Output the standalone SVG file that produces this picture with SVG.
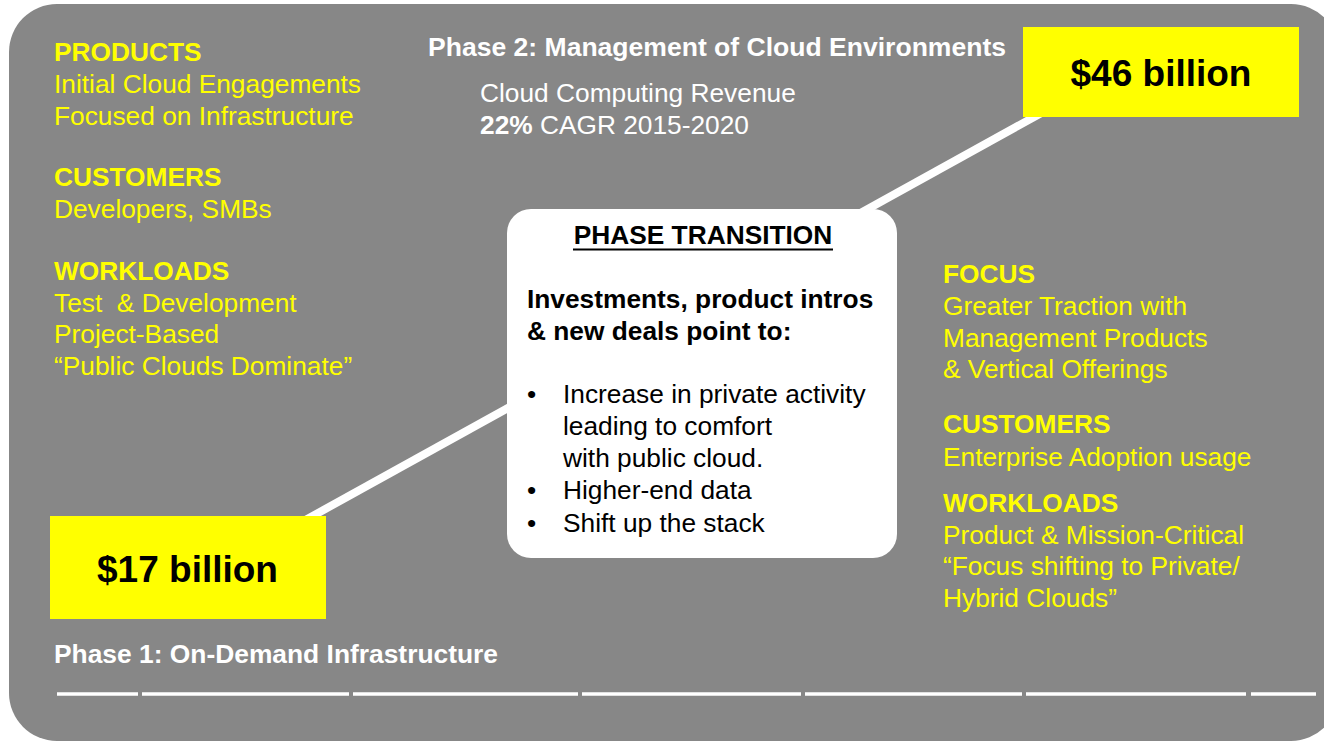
<svg xmlns="http://www.w3.org/2000/svg" width="1324" height="744" viewBox="0 0 1324 744">
<style>
  text { font-family: "Liberation Sans", Arial, Helvetica, sans-serif; font-size: 26.3px; }
  .y { fill: #FFFF00; }
  .yb { fill: #FFFF00; font-weight: bold; }
  .w { fill: #FFFFFF; }
  .wb { fill: #FFFFFF; font-weight: bold; }
  .k { fill: #000000; }
  .kb { fill: #000000; font-weight: bold; }
  .big { fill: #000000; font-weight: bold; font-size: 37px; }
  .seg { stroke: #FFFFFF; stroke-width: 3.5; }
  .pre { white-space: pre; }
</style>
<rect width="1324" height="744" fill="#FFFFFF"/>
<rect id="panel" x="9" y="4" width="1330" height="737" rx="48" ry="48" fill="#878787"/>

<g id="connectors">
  <line x1="300" y1="523" x2="1045" y2="111" stroke="#FFFFFF" stroke-width="8"/>
</g>

<g id="timeline">
  <line class="seg" x1="57" y1="694" x2="138" y2="694"/>
  <line class="seg" x1="142" y1="694" x2="349" y2="694"/>
  <line class="seg" x1="353" y1="694" x2="578" y2="694"/>
  <line class="seg" x1="582" y1="694" x2="801" y2="694"/>
  <line class="seg" x1="805" y1="694" x2="1022" y2="694"/>
  <line class="seg" x1="1026" y1="694" x2="1246" y2="694"/>
  <line class="seg" x1="1251" y1="694" x2="1316" y2="694"/>
</g>

<g id="phase1-details">
  <text class="yb" x="54" y="61">PRODUCTS</text>
  <text class="y" x="54" y="93">Initial Cloud Engagements</text>
  <text class="y" x="54" y="125">Focused on Infrastructure</text>
  <text class="yb" x="54" y="186">CUSTOMERS</text>
  <text class="y" x="54" y="218">Developers, SMBs</text>
  <text class="yb" x="54" y="280">WORKLOADS</text>
  <text class="y pre" x="54" y="312">Test  &amp; Development</text>
  <text class="y" x="54" y="343">Project-Based</text>
  <text class="y" x="54" y="375">“Public Clouds Dominate”</text>
</g>

<g id="phase2-header">
  <text class="wb" x="428" y="56" textLength="578" lengthAdjust="spacingAndGlyphs">Phase 2: Management of Cloud Environments</text>
  <text class="w" x="480" y="102">Cloud Computing Revenue</text>
  <text class="w" x="480" y="134"><tspan font-weight="bold">22%</tspan> CAGR 2015-2020</text>
</g>

<g id="value-46">
  <rect x="1023" y="27" width="276" height="90" fill="#FFFF00"/>
  <text class="big" x="1161" y="86" text-anchor="middle">$46 billion</text>
</g>

<g id="value-17">
  <rect x="50" y="516" width="276" height="103" fill="#FFFF00"/>
  <text class="big" x="187.5" y="582" text-anchor="middle">$17 billion</text>
</g>

<g id="phase-transition">
  <rect x="507" y="209" width="390" height="349" rx="24" ry="24" fill="#FFFFFF"/>
  <text class="kb" x="703" y="244" text-anchor="middle">PHASE TRANSITION</text>
  <line x1="573" y1="249.5" x2="833" y2="249.5" stroke="#000000" stroke-width="2"/>
  <text class="kb" x="527" y="308">Investments, product intros</text>
  <text class="kb" x="527" y="340">&amp; new deals point to:</text>
  <text class="k" x="527" y="403">•</text>
  <text class="k" x="563" y="403">Increase in private activity</text>
  <text class="k" x="563" y="435">leading to comfort</text>
  <text class="k" x="563" y="467">with public cloud.</text>
  <text class="k" x="527" y="499">•</text>
  <text class="k" x="563" y="499">Higher-end data</text>
  <text class="k" x="527" y="532">•</text>
  <text class="k" x="563" y="532">Shift up the stack</text>
</g>

<g id="phase2-details">
  <text class="yb" x="943" y="283">FOCUS</text>
  <text class="y" x="943" y="315">Greater Traction with</text>
  <text class="y" x="943" y="347">Management Products</text>
  <text class="y" x="943" y="378">&amp; Vertical Offerings</text>
  <text class="yb" x="943" y="433">CUSTOMERS</text>
  <text class="y" x="943" y="466">Enterprise Adoption usage</text>
  <text class="yb" x="943" y="512">WORKLOADS</text>
  <text class="y" x="943" y="544">Product &amp; Mission-Critical</text>
  <text class="y" x="943" y="575">“Focus shifting to Private/</text>
  <text class="y" x="943" y="607">Hybrid Clouds”</text>
</g>

<g id="phase1-label">
  <text class="wb" x="54" y="663" textLength="444" lengthAdjust="spacingAndGlyphs">Phase 1: On-Demand Infrastructure</text>
</g>
</svg>
